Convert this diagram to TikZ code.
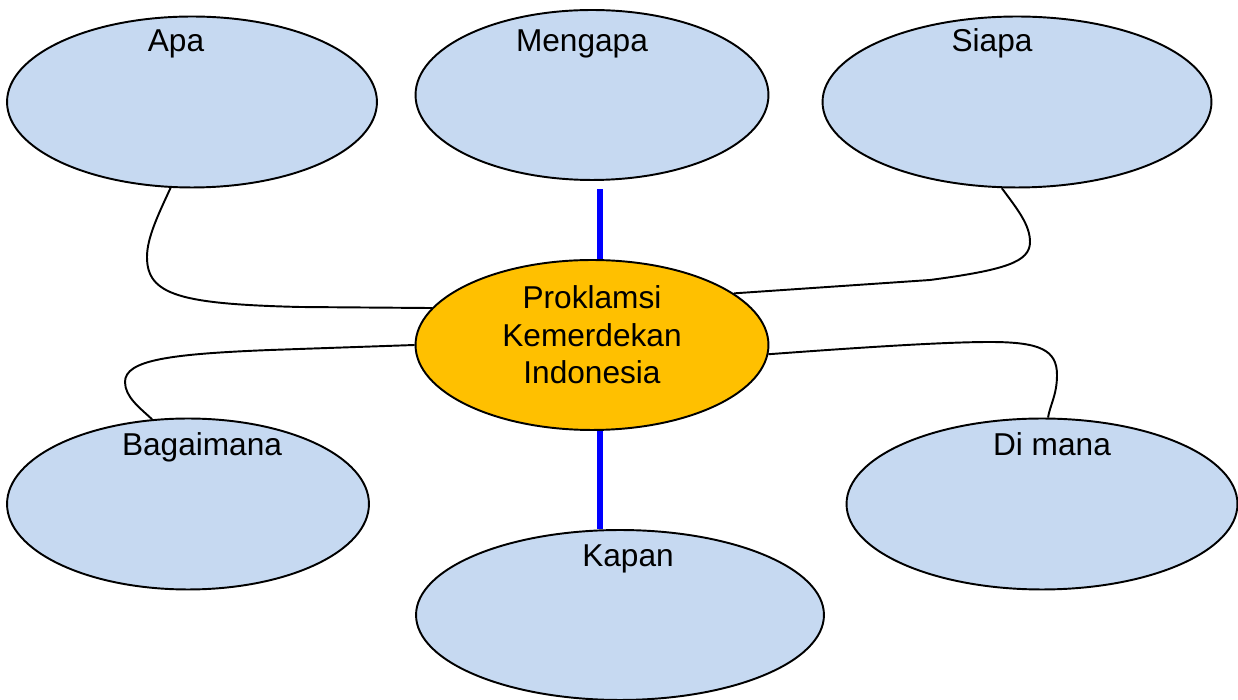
\documentclass[tikz,border=0pt]{standalone}
\usepackage{fontspec}
\setmainfont{Liberation Sans}
\usetikzlibrary{shapes.geometric,calc}
\definecolor{birumuda}{HTML}{C6D9F1}
\definecolor{jingga}{HTML}{FFC000}
\tikzset{
  gelembung/.style = {ellipse, draw=black, line width=1.1pt, fill=birumuda,
    inner sep=0pt, minimum height=3.42cm},
  teks/.style = {inner sep=0pt, font=\fontsize{18}{21.3}\selectfont},
  garis/.style = {line width=1.1pt},
  biru/.style = {draw=blue, line width=3.4pt}
}

\begin{document}
\begin{tikzpicture}[x=0.02cm,y=0.02cm]
  \useasboundingbox (0,0) rectangle (1238,700);
  % question bubbles
  \node[gelembung,minimum width=7.4cm] (apa) at (192,598) {};
  \node[gelembung,minimum width=7.06cm,minimum height=3.4cm] (mengapa) at (592,605) {};
  \node[gelembung,minimum width=7.78cm] (siapa) at (1017,598) {};
  \node[gelembung,minimum width=7.24cm] (bagaimana) at (188,196) {};
  \node[gelembung,minimum width=7.82cm] (dimana) at (1042,196) {};
  \node[gelembung,minimum width=8.16cm,minimum height=3.4cm] (kapan) at (620,85) {};
  % centre bubble
  \node[gelembung,fill=jingga,minimum width=7.06cm,minimum height=3.4cm] (pusat) at (592,355) {};
  \node[teks,align=center] (judul) at (592,365) {Proklamsi\\Kemerdekan\\Indonesia};
  % labels
  \node[teks,anchor=base] (tapa) at (176,648) {Apa};
  \node[teks,anchor=base] (tmengapa) at (582,648) {Mengapa};
  \node[teks,anchor=base] (tsiapa) at (992,648) {Siapa};
  \node[teks,anchor=base] (tbagaimana) at (202,244) {Bagaimana};
  \node[teks,anchor=base] (tdimana) at (1052,244) {Di mana};
  \node[teks,anchor=base] (tkapan) at (628,133) {Kapan};
  % blue connectors
  \coordinate (atas) at ($(mengapa.south)+(8,-8)$);
  \coordinate (bawah) at ($(pusat.south)+(8,0)$);
  \draw[biru] (atas |- pusat.north) -- (atas);
  \draw[biru] (bawah) -- (bawah |- kapan.north);
  % curved connectors
  \draw[garis] (apa.256) .. controls (158,485) and (147,462) .. (147,443)
    .. controls (147,405) and (180,396) .. (300,393) -- (pusat.167);
  \draw[garis] (siapa.260) .. controls (1018,490) and (1030,475) .. (1030,458)
    .. controls (1030,438) and (1005,430) .. (930,420) -- (pusat.20);
  \draw[garis] (pusat.180) -- (270,350) .. controls (170,346) and (125,340) .. (125,318)
    .. controls (125,303) and (140,292) .. (bagaimana.113);
  \draw[garis] (pusat.357) .. controls (880,354) and (950,358) .. (990,358)
    .. controls (1040,358) and (1057,350) .. (1057,325)
    .. controls (1057,305) and (1050,295) .. (dimana.86);
\end{tikzpicture}
\end{document}
